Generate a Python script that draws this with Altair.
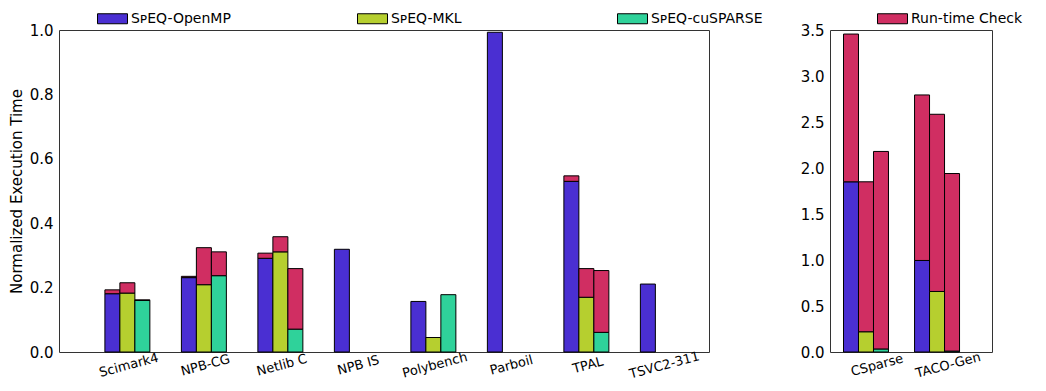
import altair as alt
import pandas as pd

# ---------------- data ----------------
left_groups = ["Scimark4", "NPB-CG", "Netlib C", "NPB IS", "Polybench", "Parboil", "TPAL", "TSVC2-311"]
left_openmp_base = [0.181, 0.231, 0.291, 0.319, 0.157, 0.993, 0.530, 0.211]
left_openmp_total = [0.193, 0.235, 0.307, 0.319, 0.157, 0.993, 0.547, 0.211]
left_mkl_base = [0.183, 0.209, 0.311, 0.0, 0.045, 0.0, 0.170, 0.0]
left_mkl_total = [0.215, 0.324, 0.358, 0.0, 0.045, 0.0, 0.259, 0.0]
left_cusparse_base = [0.160, 0.237, 0.071, 0.0, 0.178, 0.0, 0.061, 0.0]
left_cusparse_total = [0.162, 0.311, 0.259, 0.0, 0.178, 0.0, 0.253, 0.0]

right_groups = ["CSparse", "TACO-Gen"]
right_openmp_base = [1.85, 0.995]
right_openmp_total = [3.456, 2.794]
right_mkl_base = [0.22, 0.658]
right_mkl_total = [1.85, 2.584]
right_cusparse_base = [0.033, 0.01]
right_cusparse_total = [2.18, 1.94]

series_names = ["S\u1d18EQ-OpenMP", "S\u1d18EQ-MKL", "S\u1d18EQ-cuSPARSE"]
check_name = "Run-time Check"
colors = ["#4a2fd2", "#b6cf2f", "#2fd29a", "#d02e62"]

left_ticks = [0.0, 0.2, 0.4, 0.6, 0.8, 1.0]
right_ticks = [0.0, 0.5, 1.0, 1.5, 2.0, 2.5, 3.0, 3.5]


def build_rows(groups, bases, totals):
    rows = []
    for s, b_list, t_list in zip(series_names, bases, totals):
        for g, b, t in zip(groups, b_list, t_list):
            if b > 0:
                rows.append(dict(group=g, series=s, part=s, value=b, ord=0))
            if t - b > 0:
                rows.append(dict(group=g, series=s, part=check_name, value=round(t - b, 4), ord=1))
    return pd.DataFrame(rows)


left_df = build_rows(
    left_groups,
    [left_openmp_base, left_mkl_base, left_cusparse_base],
    [left_openmp_total, left_mkl_total, left_cusparse_total],
)
right_df = build_rows(
    right_groups,
    [right_openmp_base, right_mkl_base, right_cusparse_base],
    [right_openmp_total, right_mkl_total, right_cusparse_total],
)

color_scale = alt.Scale(domain=series_names + [check_name], range=colors)


def panel(df, groups, width, ydomain, yticks, ytitle, xscale, legend):
    yaxis = alt.Axis(
        values=yticks, format=".1f", grid=False, domain=False, ticks=False,
        labelFontSize=15, labelColor="black", labelPadding=6,
        titleFontSize=15, titleFontWeight="normal", titleColor="black", titlePadding=5,
    )
    return alt.Chart(df).mark_bar(stroke="black", strokeWidth=1).encode(
        x=alt.X("group:N", sort=groups, scale=xscale, title=None,
                axis=alt.Axis(labelAngle=345, ticks=False, domain=False, labelFontSize=13,
                              labelColor="black", labelPadding=7, labelAlign="center",
                              labelBaseline="top")),
        xOffset=alt.XOffset("series:N", scale=alt.Scale(domain=series_names, paddingInner=0, paddingOuter=0)),
        y=alt.Y("value:Q", stack="zero", scale=alt.Scale(domain=ydomain, nice=False),
                title=ytitle if ytitle else None, axis=yaxis),
        color=alt.Color("part:N", scale=color_scale, legend=legend),
        order=alt.Order("ord:Q"),
    ).properties(width=width, height=322)


legend = alt.Legend(
    title=None, orient="none", legendX=43, legendY=-22, direction="horizontal",
    columns=4, gridAlign="all", columnPadding=112,
    symbolType="M-1.5,-0.5L1.5,-0.5L1.5,0.5L-1.5,0.5Z", symbolSize=400,
    symbolStrokeColor="black", symbolStrokeWidth=1, symbolOpacity=1,
    labelFontSize=14, labelColor="black", labelOffset=8,
)

left = panel(left_df, left_groups, 650, [0, 1.0], left_ticks, "Normalized Execution Time",
             alt.Scale(paddingInner=0.412, paddingOuter=0.4545, align=0.66), legend)
right = panel(right_df, right_groups, 162, [0, 3.5], right_ticks, None,
              alt.Scale(paddingInner=0.1, paddingOuter=0.19, align=0.5), None)

chart = alt.hconcat(left, right, spacing=89).properties(
    padding={"left": 0, "top": 0, "right": 0, "bottom": 0}
).configure(font="DejaVu Sans").configure_view(stroke="#333", strokeWidth=1)

chart.save("out.html", embed_options={"renderer": "svg", "actions": False})
